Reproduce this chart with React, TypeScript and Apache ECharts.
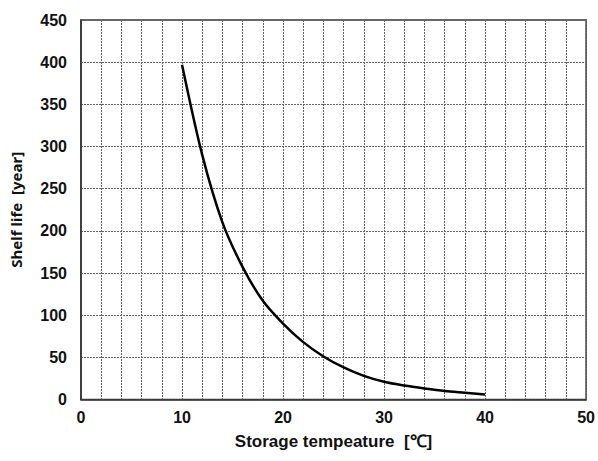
import React, { useEffect, useRef } from "react";
import * as echarts from "echarts";

const temperatures = [10, 12, 14, 16, 18, 20, 22, 24, 26, 28, 30, 32, 34, 36, 38, 40];
const shelfLife = [397, 290, 210, 157, 117, 90, 68, 51, 38, 28, 21, 16.5, 13, 10, 8, 6];

export default function App() {
  const ref = useRef<HTMLDivElement>(null);
  useEffect(() => {
    const chart = echarts.init(ref.current!, undefined, { renderer: "svg" });
    const gridLine = { show: true, lineStyle: { color: "#666", type: [2, 1] as any, width: 1 } };
    chart.setOption({
      animation: false,
      backgroundColor: "#fff",
      grid: { left: 80, right: 10, top: 20, bottom: 61.5, show: true, borderColor: "#333", borderWidth: 1.5, backgroundColor: "transparent" },
      xAxis: {
        type: "value",
        min: 0,
        max: 50,
        interval: 10,
        name: "Storage tempeature  [℃]",
        nameLocation: "middle",
        nameGap: 33,
        nameTextStyle: { fontFamily: "Liberation Sans", fontWeight: "bold", fontSize: 17, color: "#111" },
        axisLine: { show: true, lineStyle: { color: "#333", width: 1.5 } },
        axisTick: { show: false },
        axisLabel: { margin: 10, fontFamily: "Liberation Sans", fontWeight: "bold", fontSize: 16, color: "#111" },
        splitLine: gridLine,
        minorTick: { show: false, splitNumber: 5 },
        minorSplitLine: gridLine,
      },
      yAxis: {
        type: "value",
        min: 0,
        max: 450,
        interval: 50,
        name: "Shelf life  [year]",
        nameLocation: "middle",
        nameGap: 58,
        nameTextStyle: { fontFamily: "Noto Sans", fontWeight: "bold", fontSize: 15, color: "#111" },
        axisLine: { show: true, lineStyle: { color: "#333", width: 1.5 } },
        axisTick: { show: false },
        axisLabel: { margin: 14, fontFamily: "Liberation Sans", fontWeight: "bold", fontSize: 16, color: "#111" },
        splitLine: gridLine,
      },
      series: [
        {
          type: "line",
          data: temperatures.map((t, i) => [t, shelfLife[i]]),
          smooth: 0.3,
          showSymbol: false,
          lineStyle: { color: "#000", width: 2.5 },
        },
      ],
    });
    return () => chart.dispose();
  }, []);
  return <div ref={ref} style={{ width: 598, height: 461, position: "absolute", left: 0, top: 0 }} />;
}
